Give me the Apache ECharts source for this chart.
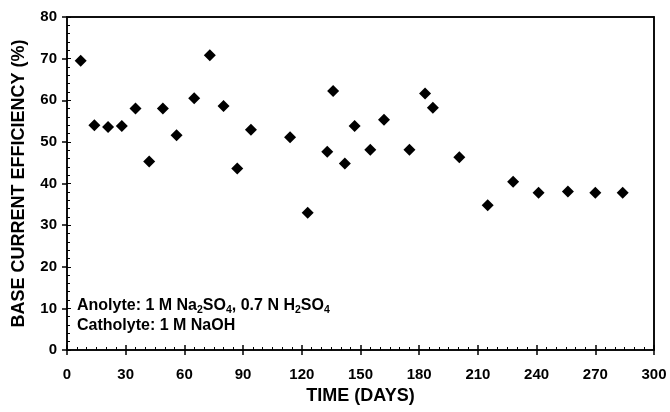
<!DOCTYPE html>
<html>
<head>
<meta charset="utf-8">
<script src="https://cdn.jsdelivr.net/npm/echarts@6/dist/echarts.min.js"></script>
<style>
  html, body { margin: 0; padding: 0; background: #fff; }
  #main { width: 670px; height: 412px; }
</style>
</head>
<body>
<div id="main"></div>
<script>
// days and base current efficiency (%)
var days = [7, 14, 21, 28, 35, 42, 49, 56, 65, 73, 80, 87, 94, 114, 123, 133, 136, 142, 147, 155, 162, 175, 183, 187, 200.5, 215, 228, 241, 256, 270, 284];
var efficiency = [69.5, 54, 53.6, 53.8, 58, 45.3, 58, 51.6, 60.5, 70.8, 58.6, 43.6, 52.9, 51.1, 33, 47.6, 62.2, 44.8, 53.8, 48.1, 55.3, 48.1, 61.6, 58.2, 46.3, 34.8, 40.4, 37.8, 38.1, 37.8, 37.8];
var xTicks = [0, 30, 60, 90, 120, 150, 180, 210, 240, 270, 300];
var yTicks = [0, 10, 20, 30, 40, 50, 60, 70, 80];

var myChart = echarts.init(document.getElementById('main'));

var FONT = 'Arial';
var labelFont = {
    color: '#000',
    fontFamily: FONT,
    fontWeight: 'bold',
    fontSize: 15
};

var points = days.map(function (d, i) { return [d, efficiency[i]]; });

var xMin = xTicks[0], xMax = xTicks[xTicks.length - 1];
var yMin = yTicks[0], yMax = yTicks[yTicks.length - 1];

var option = {
    animation: false,
    backgroundColor: '#fff',
    grid: {
        left: 67, right: 16, top: 17, bottom: 62,
        show: true,
        backgroundColor: 'transparent',
        borderColor: '#000',
        borderWidth: 1.5
    },
    xAxis: [{
        type: 'value',
        min: xMin, max: xMax, interval: 30,
        name: 'TIME (DAYS)',
        nameLocation: 'middle',
        nameGap: 33,
        nameTextStyle: Object.assign({}, labelFont, { fontSize: 18 }),
        axisLine: { lineStyle: { color: '#000', width: 1.5 } },
        axisTick: { inside: false, length: 5, lineStyle: { color: '#000', width: 1.5 } },
        axisLabel: Object.assign({}, labelFont, { margin: 17 }),
        splitLine: { show: false }
    }, {
        // inner ticks + minor ticks
        type: 'value',
        position: 'bottom',
        min: xMin, max: xMax, interval: 30,
        axisLine: { show: false },
        axisTick: { inside: true, length: 5, lineStyle: { color: '#000', width: 1.5 } },
        minorTick: { show: true, splitNumber: 6, length: 3, lineStyle: { color: '#000', width: 1 } },
        axisLabel: { show: false },
        splitLine: { show: false }
    }, {
        // top frame line
        type: 'value',
        position: 'top',
        min: xMin, max: xMax,
        axisLine: { show: true, onZero: false, lineStyle: { color: '#000', width: 1.5 } },
        axisTick: { show: false },
        axisLabel: { show: false },
        splitLine: { show: false }
    }],
    yAxis: [{
        type: 'value',
        min: yMin, max: yMax, interval: 10,
        name: 'BASE CURRENT EFFICIENCY (%)',
        nameLocation: 'middle',
        nameGap: 39,
        nameTextStyle: Object.assign({}, labelFont, { fontSize: 18 }),
        axisLine: { lineStyle: { color: '#000', width: 1.5 } },
        axisTick: { inside: false, length: 5, lineStyle: { color: '#000', width: 1.5 } },
        axisLabel: Object.assign({}, labelFont, { margin: 10 }),
        splitLine: { show: false }
    }, {
        type: 'value',
        position: 'left',
        min: yMin, max: yMax, interval: 10,
        axisLine: { show: false },
        axisTick: { inside: true, length: 4, lineStyle: { color: '#000', width: 1 } },
        minorTick: { show: true, splitNumber: 5, length: 3, lineStyle: { color: '#000', width: 1 } },
        axisLabel: { show: false },
        splitLine: { show: false }
    }, {
        // right frame line
        type: 'value',
        position: 'right',
        min: yMin, max: yMax,
        axisLine: { show: true, onZero: false, lineStyle: { color: '#000', width: 1.5 } },
        axisTick: { show: false },
        axisLabel: { show: false },
        splitLine: { show: false }
    }],
    series: [{
        type: 'scatter',
        data: points,
        symbol: 'diamond',
        symbolSize: 12,
        itemStyle: { color: '#000', opacity: 1 }
    }, {
        // empty series so the frame axes are laid out
        type: 'scatter',
        xAxisIndex: 2,
        yAxisIndex: 2,
        data: [],
        silent: true
    }],
    graphic: [{
        type: 'text',
        left: 77,
        top: 296,
        style: {
            text: '{n|Anolyte: 1 M Na}{s|2}{n|SO}{s|4}{n|, 0.7 N H}{s|2}{n|SO}{s|4}\n{n|Catholyte: 1 M NaOH}',
            fill: '#000',
            rich: {
                n: { fontFamily: FONT, fontWeight: 'bold', fontSize: 16, lineHeight: 20, verticalAlign: 'middle' },
                s: { fontFamily: FONT, fontWeight: 'bold', fontSize: 10.5, lineHeight: 20, padding: [9, 0, 0, 0] }
            }
        }
    }]
};

myChart.setOption(option);
</script>
</body>
</html>
